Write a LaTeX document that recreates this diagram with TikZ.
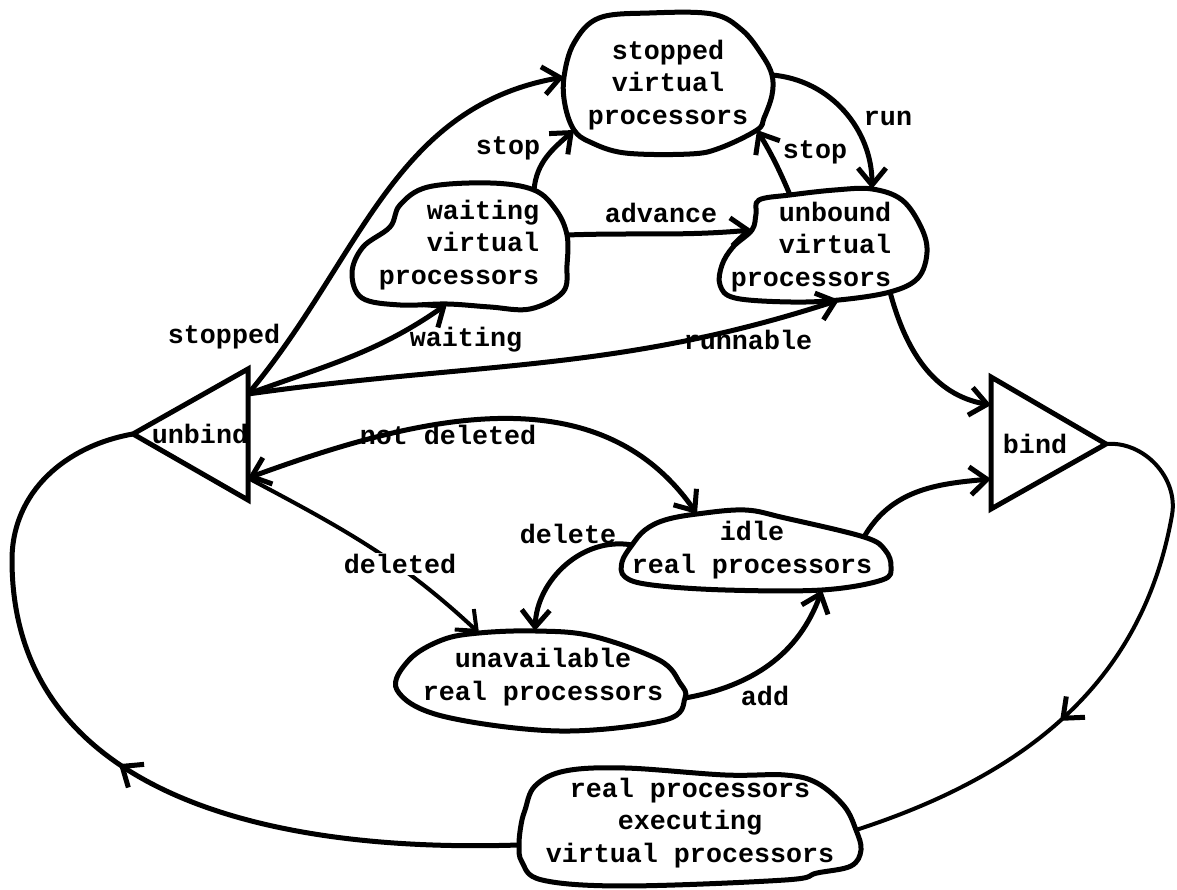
\documentclass[tikz,border=0pt]{standalone}
\usepackage{fontspec}
\newfontfamily\typefont{Liberation Mono}
\usetikzlibrary{arrows.meta,decorations.markings}
\tikzset{
	blob/.style={line width=5pt,line join=round},%
	gate/.style={line width=5pt,line join=miter},%
	state/.style={font=\typefont\bfseries\fontsize{26.7}{32.5}\selectfont,align=center,inner sep=0pt},%
	edgelabel/.style={font=\typefont\bfseries\fontsize{26.7}{32.5}\selectfont,inner sep=1pt},%
	link/.style={line width=5pt,->},%
	thinlink/.style={line width=4pt,->},%
	midarrow/.style={postaction={decorate},decoration={markings,mark=at position #1 with {\arrow[line width=5pt]{>}}}},%
}

\begin{document}
\begin{tikzpicture}[x=1pt,y=1pt,>={Straight Barb[length=17pt,width=28pt]}]
		\path[use as bounding box,fill=white] (0,0) rectangle (1177,890);
		% Attachment points {{{
		\coordinate (stopped-w) at (564,813);
		\coordinate (stopped-sw) at (574,760);
		\coordinate (stopped-se) at (757,760);
		\coordinate (stopped-e) at (772,815);
		\coordinate (waiting-n) at (534,700);
		\coordinate (waiting-e) at (567,655);
		\coordinate (waiting-s) at (447,586);
		\coordinate (unbound-w) at (752,660);
		\coordinate (unbound-nw) at (790,695);
		\coordinate (unbound-n) at (872,701);
		\coordinate (unbound-s) at (839,590);
		\coordinate (unbound-se) at (890,598);
		\coordinate (idle-n) at (697,376);
		\coordinate (idle-w) at (632,345);
		\coordinate (idle-ne) at (864,353);
		\coordinate (idle-s) at (822,300);
		\coordinate (unavail-n1) at (479,257);
		\coordinate (unavail-n2) at (535,259);
		\coordinate (unavail-e) at (685,192);
		\coordinate (exec-e) at (856,60);
		\coordinate (exec-w) at (519,45);
		\coordinate (unbind-apex) at (133,456);
		\coordinate (unbind-ne) at (248,521);
		\coordinate (unbind-se) at (248,390);
		\coordinate (unbind-out) at (248,496);
		\coordinate (unbind-in) at (248,412);
		\coordinate (bind-nw) at (991,513);
		\coordinate (bind-sw) at (991,381);
		\coordinate (bind-apex) at (1106,446);
		\coordinate (bind-in1) at (991,485);
		\coordinate (bind-in2) at (991,411);
		% }}}
		% States {{{
		\draw[blob] plot[smooth cycle,tension=0.6] coordinates {(599,872) (650,877) (712,876) (742,860) (762,835) (stopped-e) (772,795) (764,772) (stopped-se) (720,742) (690,736) (625,737) (590,748) (stopped-sw) (565,785) (stopped-w) (574,847)};
		\draw[blob] plot[smooth cycle,tension=0.6] coordinates {(400,685) (428,703) (490,707) (waiting-n) (556,680) (waiting-e) (567,625) (563,598) (530,581) (490,583) (waiting-s) (400,585) (362,592) (352,617) (363,643) (390,663)};
		\draw[blob] plot[smooth cycle,tension=0.6] coordinates {(759,690) (unbound-nw) (835,700) (unbound-n) (902,690) (921,663) (927,638) (918,612) (unbound-se) (unbound-s) (790,588) (735,592) (720,605) (722,625) (733,643) (unbound-w) (756,676)};
		\draw[blob] plot[smooth cycle,tension=0.6] coordinates {(idle-w) (645,360) (665,370) (idle-n) (745,380) (785,372) (idle-ne) (885,340) (891,323) (882,310) (idle-s) (725,300) (652,305) (625,313) (622,328)};
		\draw[blob] plot[smooth cycle,tension=0.6] coordinates {(409,230) (442,250) (unavail-n1) (unavail-n2) (592,254) (659,230) (680,207) (unavail-e) (665,170) (559,159) (442,174) (397,200)};
		\draw[blob] plot[smooth cycle,tension=0.6] coordinates {(525,80) (535,104) (565,119) (625,122) (725,115) (785,115) (817,107) (844,84) (exec-e) (861,40) (851,24) (817,17) (785,10) (625,4) (542,10) (522,28) (exec-w) (521,65)};
		\draw[gate] (unbind-apex) -- (unbind-ne) -- (unbind-se) -- cycle;
		\draw[gate] (bind-apex) -- (bind-nw) -- (bind-sw) -- cycle;
		\node[state] (stopped) at (668,805) {stopped\\virtual\\processors};
		\node[state,align=right] (waiting) at (459,645) {waiting\\virtual\\processors};
		\node[state,align=right] (unbound) at (811,643) {unbound\\virtual\\processors};
		\node[state] (idle) at (752,340) {idle\\real processors};
		\node[state] (unavail) at (543,213) {unavailable\\real processors};
		\node[state] (exec) at (690,67) {real processors\\executing\\virtual processors};
		\node[state] (unbind) at (200,456) {unbind};
		\node[state] (bind) at (1035,446) {bind};
		% }}}
		% Transitions {{{
		\draw[link] (unbind-out) to[out=50,in=190] (stopped-w);
		\draw[link] (unbind-out) to[out=20,in=215] (waiting-s);
		\draw[link] (unbind-out) to[out=8,in=198] (unbound-s);
		\draw[link] (waiting-n) to[out=85,in=222] (stopped-sw);
		\draw[link] (waiting-e) to[out=2,in=185] (unbound-w);
		\draw[link] (stopped-e) to[out=-5,in=90] (unbound-n);
		\draw[link] (unbound-nw) to[out=113,in=-59] (stopped-se);
		\draw[link] (unbound-se) to[out=-75,in=170] (bind-in1);
		\draw[link] (idle-ne) to[out=60,in=185] (bind-in2);
		\draw[link,<->] (unbind-in) to[out=20,in=125] (idle-n);
		\draw[thinlink] (unbind-in) to[out=-28,in=137] (unavail-n1);
		\draw[link] (idle-w) to[out=170,in=88] (unavail-n2);
		\draw[link] (unavail-e) to[out=10,in=-110] (idle-s);
		\draw[line width=4pt,midarrow=0.6] (bind-apex) to[out=5,in=80] (1172,375) to[out=-100,in=18] (exec-e);
		\draw[line width=5pt,midarrow=0.49] (exec-w) .. controls (240,36) and (12,110) .. (12,330) to[out=90,in=190] (unbind-apex);
		% }}}
		% Labels {{{
		\node[edgelabel] (stoplbl) at (508,742) {stop};
		\node[edgelabel] (stopbacklbl) at (815,738) {stop};
		\node[edgelabel] (runlbl) at (888,772) {run};
		\node[edgelabel] (advancelbl) at (661,677) {advance};
		\node[edgelabel] (stoppedlbl) at (224,553) {stopped};
		\node[edgelabel] (waitinglbl) at (466,550) {waiting};
		\node[edgelabel] (runnablelbl) at (748,550) {runnable};
		\node[edgelabel] (notdeletedlbl) at (448,455) {not deleted};
		\node[edgelabel] (deletelbl) at (568,356) {delete};
		\node[edgelabel,fill=white] (deletedlbl) at (400,326) {deleted};
		\node[edgelabel] (addlbl) at (765,194) {add};
		% }}}
	\end{tikzpicture}
\end{document}
